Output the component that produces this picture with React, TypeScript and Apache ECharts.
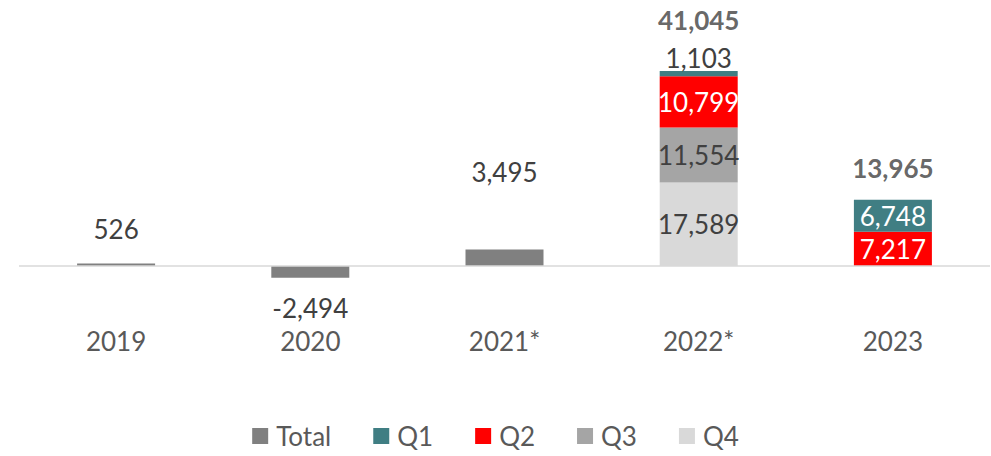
import React, { useEffect, useRef } from "react";
import * as echarts from "echarts";

const categories = ["2019", "2020", "2021*", "2022*", "2023"];
const totalValues = [526, -2494, 3495, null, null];
const q1Values = [null, null, null, 1103, 6748];
const q2Values = [null, null, null, 10799, 7217];
const q3Values = [null, null, null, 11554, null];
const q4Values = [null, null, null, 17589, null];
const stackTotals = [null, null, null, 41045, 13965];

const FONT = "Lato, 'Open Sans', sans-serif";
const DARK = "#404040";
const fmt = (v: number) => v.toLocaleString("en-US");

export default function App() {
  const ref = useRef<HTMLDivElement>(null);
  useEffect(() => {
    document.body.style.margin = "0";
    const chart = echarts.init(ref.current!, null, { renderer: "svg" });

    const totalDist = [22, 17, 64, 0, 0];
    const totalPos = ["top", "bottom", "top", "top", "top"];
    const sumDist = [0, 0, 0, 38, 19];

    const baseLabel = {
      show: true,
      fontFamily: FONT,
      fontSize: 26,
      color: DARK,
      formatter: (p: any) => fmt(p.value),
    };

    const option: any = {
      animation: false,
      grid: { left: 19, right: 1, top: 52.25, bottom: 142.5 },
      legend: {
        data: ["Total", "Q1", "Q2", "Q3", "Q4"],
        bottom: 2,
        left: "center",
        itemWidth: 16,
        itemHeight: 16,
        itemGap: 42,
        icon: "rect",
        textStyle: { fontFamily: FONT, fontSize: 26, color: "#595959", padding: [0, 0, 0, 3] },
      },
      xAxis: {
        type: "category",
        data: categories,
        axisLine: { show: false, onZero: false },
        axisTick: { show: false },
        axisLabel: { fontFamily: FONT, fontSize: 26, color: "#595959", margin: 14 },
      },
      yAxis: { type: "value", min: -10000, max: 45000, show: false },
      series: [
        {
          name: "Total",
          type: "bar",
          stack: "a",
          barWidth: 78,
          itemStyle: { color: "#808080" },
          data: totalValues.map((v, i) =>
            v == null
              ? null
              : { value: v, label: { ...baseLabel, position: totalPos[i], distance: totalDist[i] } }
          ),
          markLine: {
            silent: true,
            symbol: "none",
            label: { show: false },
            lineStyle: { color: "#d9d9d9", width: 1.5, type: "solid" },
            data: [{ yAxis: 0 }],
          },
        },
        {
          name: "Q4",
          type: "bar",
          stack: "a",
          barWidth: 78,
          itemStyle: { color: "#d9d9d9" },
          label: { ...baseLabel, position: "inside" },
          data: q4Values,
        },
        {
          name: "Q3",
          type: "bar",
          stack: "a",
          barWidth: 78,
          itemStyle: { color: "#a5a5a5" },
          label: { ...baseLabel, position: "inside" },
          data: q3Values,
        },
        {
          name: "Q2",
          type: "bar",
          stack: "a",
          barWidth: 78,
          itemStyle: { color: "#ff0000" },
          label: { ...baseLabel, position: "inside", color: "#ffffff" },
          data: q2Values,
        },
        {
          name: "Q1",
          type: "bar",
          stack: "a",
          barWidth: 78,
          itemStyle: { color: "#407e83" },
          data: q1Values.map((v, i) =>
            v == null
              ? null
              : {
                  value: v,
                  label:
                    i === 3
                      ? { ...baseLabel, position: "top", distance: 0 }
                      : { ...baseLabel, position: "inside", color: "#ffffff" },
                }
          ),
        },
        {
          name: "Sum",
          type: "scatter",
          symbolSize: 0,
          data: stackTotals.map((v, i) =>
            v == null
              ? null
              : {
                  value: v,
                  label: {
                    ...baseLabel,
                    fontWeight: "bold",
                    position: "top",
                    distance: sumDist[i],
                  },
                }
          ),
        },
      ],
    };
    chart.setOption(option);
    return () => chart.dispose();
  }, []);
  return <div ref={ref} style={{ width: 991, height: 456 }} />;
}
